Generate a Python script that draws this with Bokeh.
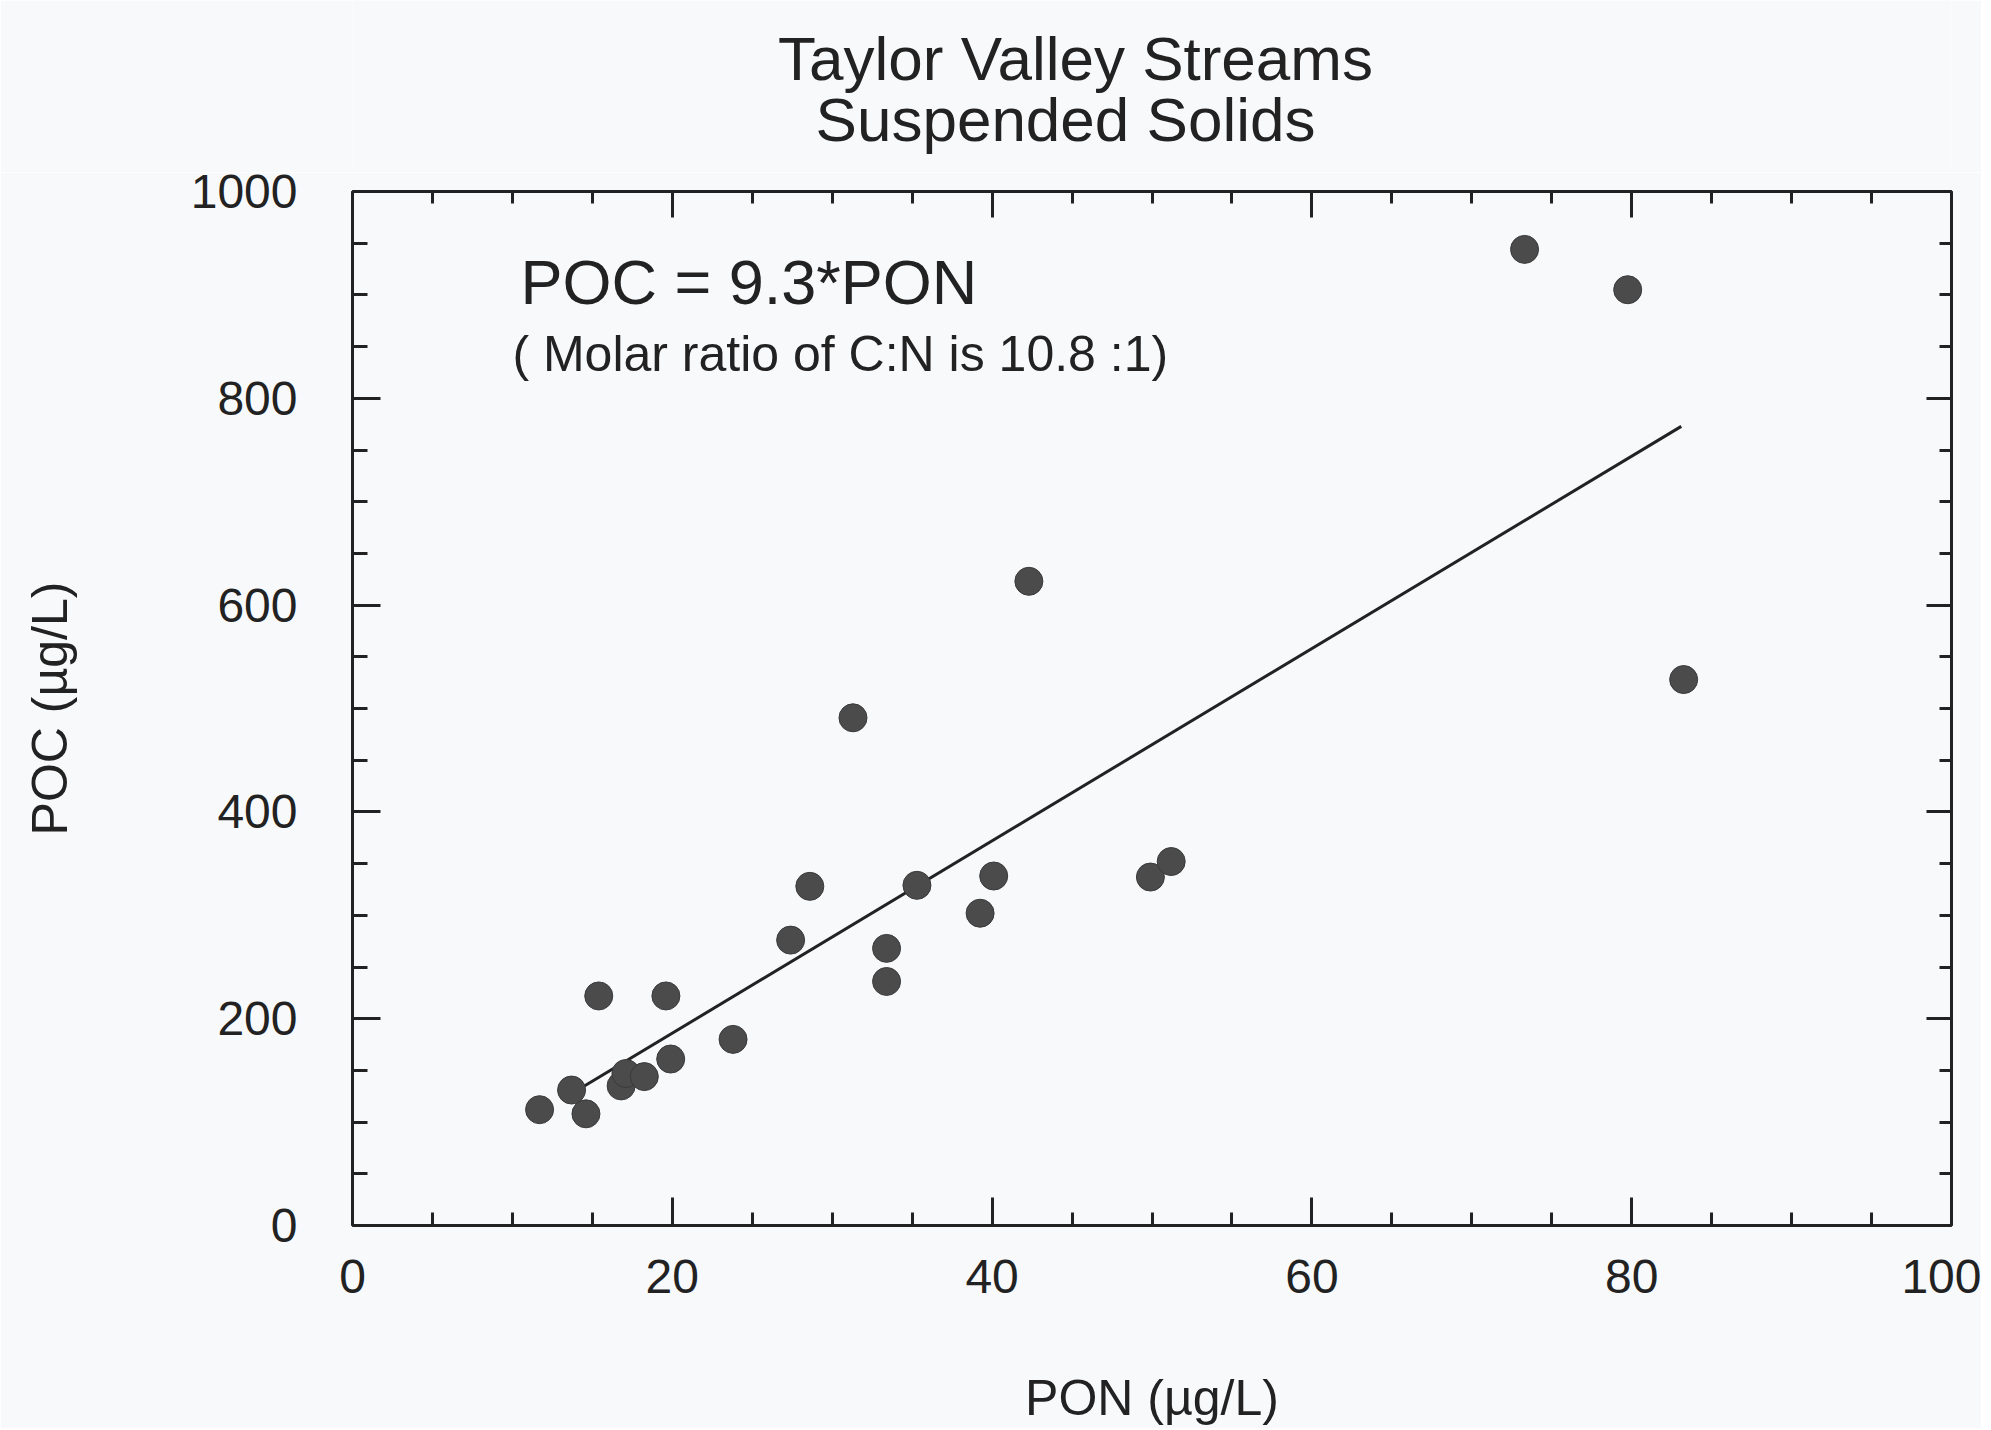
from bokeh.plotting import figure
from bokeh.layouts import column
from bokeh.models import (Range1d, SingleIntervalTicker, LinearAxis, Label, ColumnDataSource,
                          CustomJSTickFormatter)
from bokeh.embed import file_html
from bokeh.resources import INLINE

# ---- data ----
pon = [11.7, 13.7, 14.6, 15.4, 16.8, 17.1, 18.25, 19.6, 19.9, 23.8, 27.4, 28.6,
       31.3, 33.4, 33.4, 35.3, 39.25, 40.1, 42.3, 49.9, 51.2, 73.3, 79.75, 83.25]
poc = [112, 131, 108, 222, 135, 147, 144, 222, 161, 180, 276, 328,
       491, 268, 236, 329, 302, 338, 623, 337, 352, 944, 905, 528]
fit_pon = [14.5, 83.1]
fit_slope = 9.3
fit_poc = [fit_slope * v for v in fit_pon]

title_lines = ["Taylor Valley Streams", "Suspended Solids"]
eq_text = "POC = 9.3*PON"
ratio_text = "( Molar ratio of C:N is 10.8 :1)"
x_label = "PON (\u00b5g/L)"
y_label = "POC (\u00b5g/L)"

FONT = "Liberation Sans"
BG = "#f8f9fb"
INK = "#222222"
DOT = "#4b4b4b"

BORDER_L, FRAME_W, BORDER_R = 352, 1599, 30
TOTAL_W = BORDER_L + FRAME_W + BORDER_R
TITLE_H = 172

# ---- title strip (its own small figure so the two lines can sit close together);
#      its frame is aligned with the main plot's frame by the column layout ----
tf = figure(width=TOTAL_W, height=TITLE_H, x_range=Range1d(0, FRAME_W), y_range=Range1d(0, TITLE_H),
            output_backend="svg", toolbar_location=None,
            x_axis_location=None, y_axis_location=None,
            min_border_left=0, min_border_right=0, min_border_top=0, min_border_bottom=0,
            background_fill_color=BG, border_fill_color=BG, outline_line_color=None)
tf.grid.visible = False
tf.add_layout(Label(x=723, y=TITLE_H - 57.5, text=title_lines[0], text_font=FONT,
                    text_font_size="62px", text_color=INK, text_align="center",
                    text_baseline="middle"))
tf.add_layout(Label(x=713, y=TITLE_H - 118.5, text=title_lines[1], text_font=FONT,
                    text_font_size="62px", text_color=INK, text_align="center",
                    text_baseline="middle"))

# ---- main plot ----
p = figure(frame_width=FRAME_W, frame_height=1034,
           x_range=Range1d(0, 100), y_range=Range1d(0, 1000),
           output_backend="svg", toolbar_location=None,
           x_axis_location=None, y_axis_location=None,
           min_border_left=BORDER_L, min_border_top=191 - TITLE_H, min_border_right=BORDER_R,
           min_border_bottom=150,
           background_fill_color=BG, border_fill_color=BG, outline_line_color=None)
p.grid.visible = False


def style_axis(ax, major_len, minor_len, labels=True):
    ax.axis_line_color = INK
    ax.axis_line_width = 3
    ax.major_tick_line_color = INK
    ax.major_tick_line_width = 3
    ax.minor_tick_line_color = INK
    ax.minor_tick_line_width = 3
    ax.major_tick_in = major_len
    ax.major_tick_out = 0
    ax.minor_tick_in = minor_len
    ax.minor_tick_out = 0
    if labels:
        ax.major_label_text_font = FONT
        ax.major_label_text_font_size = "48px"
        ax.major_label_text_color = INK
        ax.axis_label_text_font = FONT
        ax.axis_label_text_font_size = "50px"
        ax.axis_label_text_font_style = "normal"
        ax.axis_label_text_color = INK
    else:
        ax.formatter = CustomJSTickFormatter(code="return ''")
        ax.major_label_standoff = 0


xb = LinearAxis(ticker=SingleIntervalTicker(interval=20, num_minor_ticks=4), axis_label=x_label)
style_axis(xb, 28, 13)
xb.major_label_standoff = 34
xb.axis_label_standoff = 74
p.add_layout(xb, "below")

xt = LinearAxis(ticker=SingleIntervalTicker(interval=20, num_minor_ticks=4))
style_axis(xt, 26, 12, labels=False)
p.add_layout(xt, "above")

yl = LinearAxis(ticker=SingleIntervalTicker(interval=200, num_minor_ticks=4), axis_label=y_label)
style_axis(yl, 28, 15)
yl.major_label_standoff = 55
yl.axis_label_standoff = 110
p.add_layout(yl, "left")

yr = LinearAxis(ticker=SingleIntervalTicker(interval=200, num_minor_ticks=4))
style_axis(yr, 25, 12, labels=False)
p.add_layout(yr, "right")

src = ColumnDataSource(dict(pon=pon, poc=poc))
p.line(fit_pon, fit_poc, line_color=INK, line_width=3)
p.scatter("pon", "poc", source=src, size=28, fill_color=DOT, line_color="#3a3a3a", line_width=1)

p.add_layout(Label(x=10.5, y=912, text=eq_text, text_font=FONT, text_font_size="63px",
                   text_color=INK, text_align="left", text_baseline="alphabetic"))
p.add_layout(Label(x=10.0, y=843, text=ratio_text, text_font=FONT, text_font_size="50px",
                   text_color=INK, text_align="left", text_baseline="alphabetic"))

layout = column(tf, p, spacing=0)
open("out.html", "w").write(file_html(layout, INLINE))
